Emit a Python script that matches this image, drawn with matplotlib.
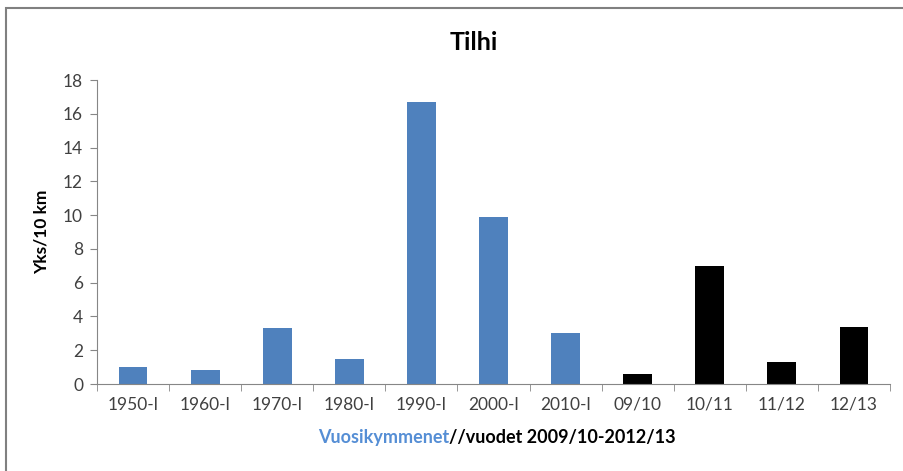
import matplotlib
matplotlib.use('Agg')
import matplotlib.pyplot as plt
from matplotlib.patches import Rectangle

plt.rcParams['font.family'] = ['Lato', 'DejaVu Sans']

# Tilhi: yksilöitä / 10 km
categories = ['1950-l', '1960-l', '1970-l', '1980-l', '1990-l', '2000-l', '2010-l',
              '09/10', '10/11', '11/12', '12/13']
values = [1.0, 0.8, 3.3, 1.5, 16.7, 9.9, 3.0, 0.6, 7.0, 1.3, 3.4]
colors = ['#4F81BD'] * 7 + ['#000000'] * 4
y_ticks = [0, 2, 4, 6, 8, 10, 12, 14, 16, 18]

fig = plt.figure(figsize=(9.04, 4.71), dpi=100)
ax = fig.add_axes([0.1073, 0.1847, 0.8772, 0.6453])

x = list(range(len(categories)))
ax.bar(x, values, width=0.4, color=colors, zorder=2)

ax.set_xlim(-0.5, len(categories) - 0.5)
ax.set_ylim(0, 18)
ax.set_yticks(y_ticks)
ax.set_xticks(x)
ax.set_xticklabels(categories)
ax.set_xticks([i + 0.5 for i in range(-1, len(categories))], minor=True)
ax.tick_params(axis='x', which='major', length=0, pad=9, labelsize=12.5, labelcolor='#404040')
ax.tick_params(axis='x', which='minor', length=5, color='#868686', direction='out')
ax.tick_params(axis='y', length=5, color='#868686', labelsize=12.5, labelcolor='#404040', pad=5)

for side in ['top', 'right']:
    ax.spines[side].set_visible(False)
for side in ['left', 'bottom']:
    ax.spines[side].set_color('#868686')

ax.set_ylabel('Yks/10 km', fontsize=12.5, fontweight='bold', labelpad=10)

fig.text(0.524, 0.91, 'Tilhi', ha='center', va='center', fontsize=18, fontweight='bold')

# x-akselin otsikko kahdella värillä
t1 = fig.text(0.352, 0.072, 'Vuosikymmenet', ha='left', va='center',
              fontsize=13, fontweight='bold', color='#558ED5')
ax.annotate('//vuodet 2009/10-2012/13', xy=(1, 0.5), xycoords=t1, ha='left', va='center',
            fontsize=13, fontweight='bold', color='black')

# kaavion reunus
fig.patches.append(Rectangle((6 / 904, -0.1), 1.2, 1.1 - 8 / 471, transform=fig.transFigure,
                             fill=False, edgecolor='#808080', linewidth=1.5))

fig.savefig('out.png', dpi=100)
